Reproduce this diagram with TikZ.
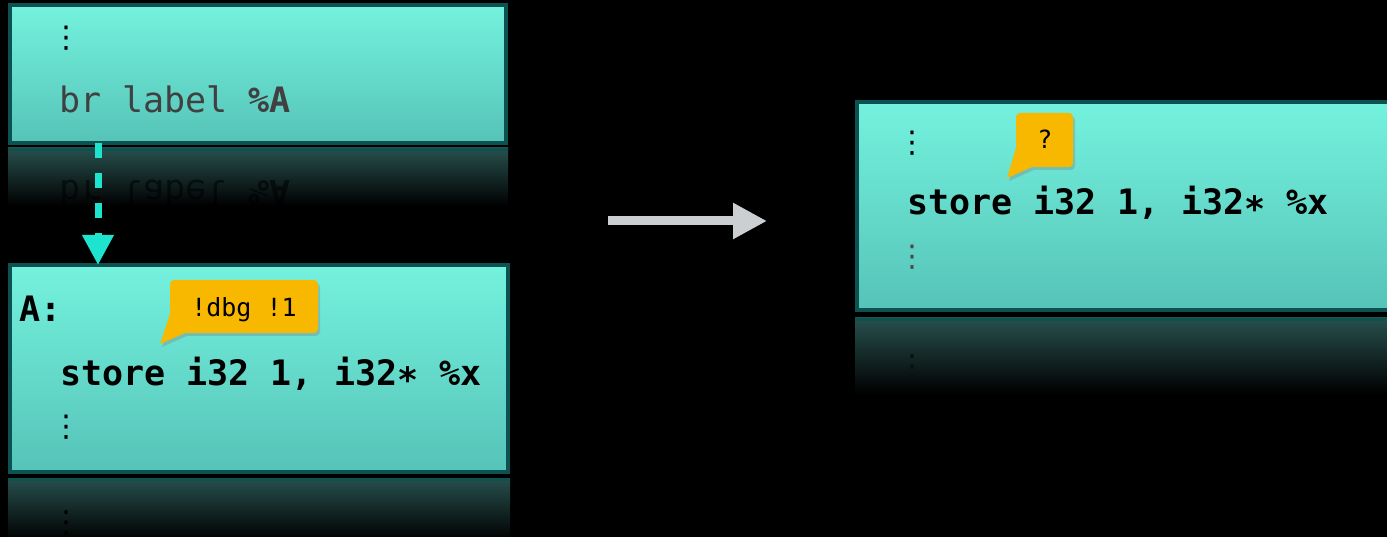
\documentclass[tikz,border=0pt]{standalone}
\usepackage{fontspec}
\setmonofont{DejaVu Sans Mono}
\newfontfamily\dvs{DejaVu Sans}
\usetikzlibrary{arrows.meta,shadows}
\definecolor{boxtop}{HTML}{74F2DE}
\definecolor{boxbot}{HTML}{56C3B8}
\definecolor{boxedge}{HTML}{0C5250}
\definecolor{refltop}{HTML}{27504D}
\definecolor{callfill}{HTML}{F9B800}
\definecolor{arrowgrey}{HTML}{CCCFD2}
\definecolor{dashcol}{HTML}{1DE3CF}
\definecolor{codegrey}{HTML}{404040}
\definecolor{dotgrey}{HTML}{4A4A4A}
\tikzset{
  codebox/.style={draw=boxedge, line width=4.5pt, top color=boxtop, bottom color=boxbot,
    anchor=north west, inner sep=0pt, outer sep=0pt},
  reflbox/.style={top color=refltop, bottom color=black, draw=none},
  refledge/.style={draw=boxedge, line width=3pt},
  code/.style={font=\ttfamily\fontsize{35}{40}\selectfont, anchor=base west, inner sep=0pt, text=black},
  calltext/.style={font=\ttfamily\fontsize{25}{30}\selectfont, anchor=base, inner sep=0pt, text=black},
  callshape/.style={fill=callfill, drop shadow={shadow xshift=2pt, shadow yshift=-3pt, opacity=0.35}},
  vdot/.style={font=\dvs\fontsize{30}{30}\selectfont, inner sep=0pt},
  mirror/.style={yscale=-1, transform shape},
  dasharrow/.style={draw=dashcol, line width=7pt, dash pattern=on 15pt off 15pt,
    -{Triangle[length=30pt,width=30pt]}},
  bigarrow/.style={draw=arrowgrey, line width=9pt, -{Triangle[length=34pt,width=34pt]}}
}
\begin{document}
\begin{tikzpicture}[x=1pt,y=-1pt]
\useasboundingbox (0,0) rectangle (1387,537);
\fill[black] (0,0) rectangle (1387,537);

% reflections
\shade[reflbox] (8,148) rectangle (508,206);
\draw[refledge] (8,149.5) -- (508,149.5);
\node[code, mirror, opacity=0.55] (m1) at (59,181) {\color{black}br label \textbf{\%A}};

\shade[reflbox] (8,478) rectangle (510,540);
\draw[refledge] (8,479.5) -- (510,479.5);
\node[vdot, mirror, text=black] (m2) at (66,523) {⋮};

\shade[reflbox] (855,318) rectangle (1387,394);
\draw[refledge] (855,319.5) -- (1387,319.5);
\node[vdot, mirror, text=black!80!refltop] (m3) at (912,367) {⋮};

% boxes
\node[codebox, minimum width=496pt, minimum height=138pt] (b1) at (10,5) {};
\node[codebox, minimum width=498pt, minimum height=207pt] (b2) at (10,265) {};
\node[codebox, minimum width=540pt, minimum height=208pt] (b3) at (857,102) {};

% box 1 content
\node[vdot] (d1) at (66,38) {⋮};
\node[code, text=codegrey] (t1) at (59,113) {br label \textbf{\%A}};

% box 2 content
\node[code] (t2) at (19,322) {\bfseries A:};
\node[code] (t3) at (60,385) {\bfseries store i32 1, i32∗ \%x};
\node[vdot] (d2) at (66,427) {⋮};

% box 3 content
\node[vdot] (d3) at (912,143) {⋮};
\node[code] (t4) at (907,215) {\bfseries store i32 1, i32∗ \%x};
\node[vdot, text=dotgrey] (d4) at (912,257) {⋮};

% callouts
\fill[callshape] (160,344) -- (170,314) [rounded corners=4pt] -- (170,280) -- (318,280) -- (318,333) [sharp corners] -- (185,333) -- cycle;
\node[calltext] (c1) at (244,317) {!dbg !1};

\fill[callshape] (1007,178) -- (1016,148) [rounded corners=4pt] -- (1016,113) -- (1073,113) -- (1073,167) [sharp corners] -- (1032,167) -- cycle;
\node[calltext] (c2) at (1045,149) {?};

% arrows
\draw[dasharrow] ([xshift=88pt]b1.south west) -- ([xshift=88pt]b2.north west);
\coordinate (ga) at (608,221);
\coordinate (gb) at (767,221);
\draw[bigarrow] (ga) -- (gb);
\end{tikzpicture}
\end{document}
